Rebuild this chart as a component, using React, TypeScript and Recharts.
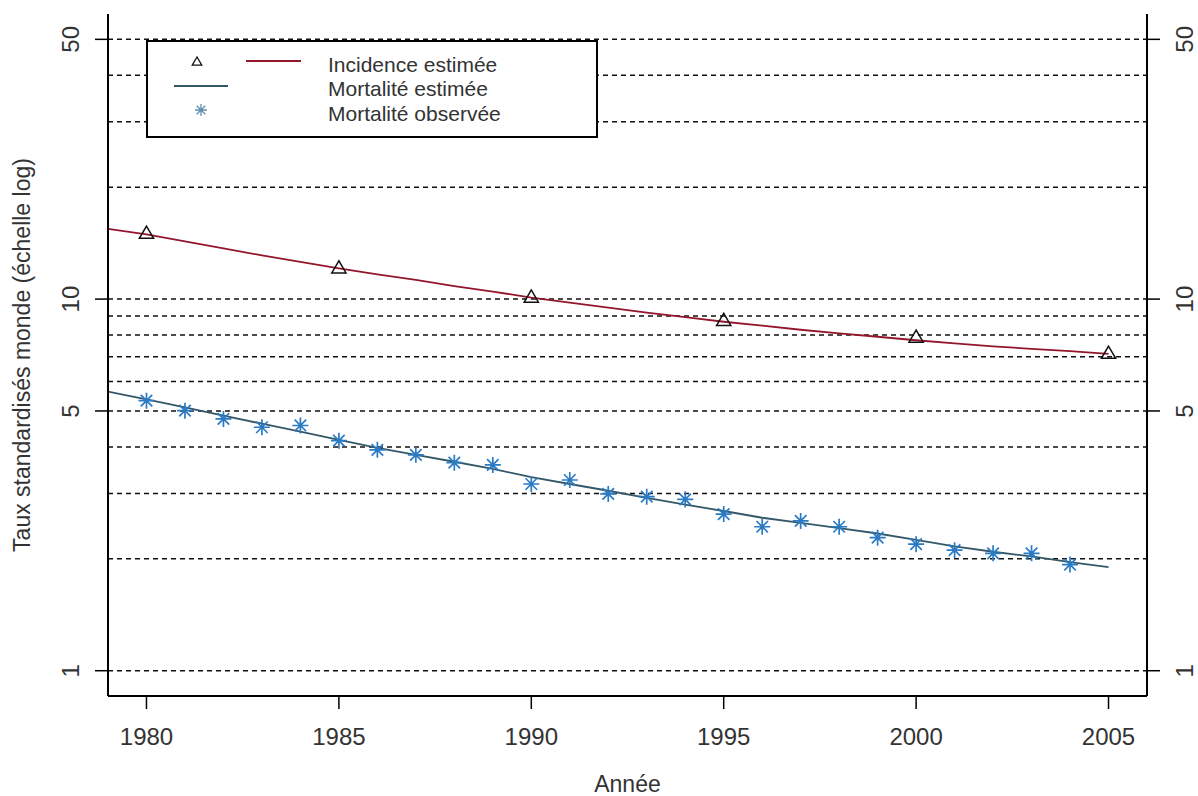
import React from "react";
import {
  ComposedChart,
  Label,
  Legend,
  Line,
  ReferenceLine,
  XAxis,
  YAxis,
} from "recharts";

// Années du modèle (courbes estimées)
const years = [
  1979, 1980, 1981, 1982, 1983, 1984, 1985, 1986, 1987, 1988, 1989, 1990, 1991,
  1992, 1993, 1994, 1995, 1996, 1997, 1998, 1999, 2000, 2001, 2002, 2003, 2004,
  2005,
];
const incidenceFit = [
  15.46, 14.94, 14.3, 13.69, 13.11, 12.59, 12.09, 11.65, 11.26, 10.84, 10.48,
  10.09, 9.78, 9.48, 9.19, 8.94, 8.69, 8.48, 8.27, 8.09, 7.92, 7.75, 7.6, 7.46,
  7.35, 7.24, 7.12,
];
const mortalityFit = [
  5.64, 5.37, 5.11, 4.86, 4.62, 4.4, 4.18, 3.98, 3.81, 3.65, 3.49, 3.32, 3.18,
  3.05, 2.92, 2.8, 2.69, 2.58, 2.5, 2.42, 2.34, 2.25, 2.16, 2.09, 2.03, 1.96,
  1.9,
];

// Points (triangles) de l'incidence
const incidenceYears = [1980, 1985, 1990, 1995, 2000, 2005];
const incidencePoints = [15.0, 12.1, 10.1, 8.74, 7.88, 7.13];

// Mortalité observée (étoiles)
const mortalityYears = [
  1980, 1981, 1982, 1983, 1984, 1985, 1986, 1987, 1988, 1989, 1990, 1991, 1992,
  1993, 1994, 1995, 1996, 1997, 1998, 1999, 2000, 2001, 2002, 2003, 2004,
];
const mortalityObserved = [
  5.33, 5.01, 4.76, 4.52, 4.57, 4.16, 3.93, 3.81, 3.63, 3.58, 3.18, 3.26, 2.99,
  2.94, 2.89, 2.64, 2.44, 2.53, 2.44, 2.28, 2.19, 2.11, 2.07, 2.07, 1.93,
];

const xTicks = [1980, 1985, 1990, 1995, 2000, 2005];
const yTicks = [1, 5, 10, 50];
const gridValues = [1, 2, 3, 4, 5, 6, 7, 8, 9, 10, 20, 30, 40, 50];

const FONT = "'Liberation Sans', Arial, sans-serif";
const TEXT = "#333";
const RED = "#94162c";
const SLATE = "#345868";
const BLUE = "#2a7bc4";

const rows = years.map((year, i) => {
  const a = incidenceYears.indexOf(year);
  const b = mortalityYears.indexOf(year);
  return {
    year,
    incFit: incidenceFit[i],
    mortFit: mortalityFit[i],
    incPt: a >= 0 ? incidencePoints[a] : null,
    mortPt: b >= 0 ? mortalityObserved[b] : null,
  };
});

function starPath(cx: number, cy: number, r: number) {
  const d = r * 0.72;
  return `M${cx - r},${cy}H${cx + r}M${cx},${cy - r}V${cy + r}` +
    `M${cx - d},${cy - d}L${cx + d},${cy + d}M${cx - d},${cy + d}L${cx + d},${cy - d}`;
}

function trianglePath(cx: number, cy: number, s: number) {
  return `M${cx},${cy - s}L${cx - s * 0.95},${cy + s * 0.62}L${cx + s * 0.95},${cy + s * 0.62}Z`;
}

const ok = (v: any) => typeof v === "number" && Number.isFinite(v);

const renderStar = (p: any) => {
  if (!ok(p.cx) || !ok(p.cy) || p.value == null) return <g key={`s${p.index}`} />;
  return (
    <path key={`s${p.index}`} d={starPath(p.cx, p.cy, 8)} stroke={BLUE} strokeWidth={1.7} fill="none" />
  );
};

const renderTriangle = (p: any) => {
  if (!ok(p.cx) || !ok(p.cy) || p.value == null) return <g key={`t${p.index}`} />;
  return (
    <path key={`t${p.index}`} d={trianglePath(p.cx, p.cy, 7.5)} stroke="#111" strokeWidth={1.5} fill="none" />
  );
};

const LeftTick = ({ x, y, payload }: any) => {
  const tx = x - 22;
  return (
    <text x={tx} y={y} transform={`rotate(-90 ${tx} ${y})`} textAnchor="middle"
      dominantBaseline="central" fontSize={24} fill={TEXT} fontFamily={FONT}>
      {payload.value}
    </text>
  );
};

const RightTick = ({ x, y, payload }: any) => {
  const tx = x + 23;
  return (
    <text x={tx} y={y} transform={`rotate(-90 ${tx} ${y})`} textAnchor="middle"
      dominantBaseline="central" fontSize={24} fill={TEXT} fontFamily={FONT}>
      {payload.value}
    </text>
  );
};

const BottomTick = ({ x, y, payload }: any) => (
  <text x={x} y={y + 25} textAnchor="middle" dominantBaseline="central"
    fontSize={24} fill={TEXT} fontFamily={FONT}>
    {payload.value}
  </text>
);

const XTitle = ({ viewBox }: any) => (
  <text x={viewBox.x + viewBox.width / 2} y={viewBox.y + 88} textAnchor="middle"
    dominantBaseline="central" fontSize={23} fill={TEXT} fontFamily={FONT}>
    Année
  </text>
);

const YTitle = ({ viewBox }: any) => {
  const tx = viewBox.x + 22;
  const ty = viewBox.y + viewBox.height / 2;
  return (
    <text x={tx} y={ty} transform={`rotate(-90 ${tx} ${ty})`} textAnchor="middle"
      dominantBaseline="central" fontSize={23} fill={TEXT} fontFamily={FONT}>
      Taux standardisés monde (échelle log)
    </text>
  );
};

const legendLabels = ["Incidence estimée", "Mortalité estimée", "Mortalité observée"];

const LegendBox = () => (
  <svg width={452} height={98} style={{ display: "block" }}>
    <rect x={1} y={1} width={450} height={96} fill="#fff" stroke="#000" strokeWidth={2} />
    <path d={trianglePath(51, 22, 5)} stroke="#111" strokeWidth={1.3} fill="none" />
    <line x1={100} x2={155} y1={21} y2={21} stroke={RED} strokeWidth={1.8} />
    <line x1={28} x2={82} y1={46} y2={46} stroke={SLATE} strokeWidth={1.8} />
    <path d={starPath(55, 70, 6)} stroke="#5f8faf" strokeWidth={1.3} fill="none" />
    {legendLabels.map((t, i) => (
      <text key={t} x={182} y={24 + i * 24.5} dominantBaseline="central"
        fontSize={21} fill={TEXT} fontFamily={FONT}>
        {t}
      </text>
    ))}
  </svg>
);

export default function App() {
  return (
    <div style={{ width: 1198, height: 796, background: "#fff" }}>
      <style>{"body{margin:0}"}</style>
      <ComposedChart width={1198} height={796} data={rows}
        margin={{ top: 14, right: 0, bottom: 0, left: 0 }}>
        <XAxis xAxisId="x" type="number" dataKey="year" domain={[1979, 2006]}
          ticks={xTicks} allowDataOverflow height={100} tickSize={13}
          tickLine={{ stroke: "#000", strokeWidth: 1.5 }}
          axisLine={{ stroke: "#000", strokeWidth: 2 }} tick={<BottomTick />}>
          <Label content={<XTitle />} />
        </XAxis>
        <XAxis xAxisId="top" orientation="top" type="number" domain={[1979, 2006]}
          allowDataOverflow height={0} tick={false} tickLine={false}
          axisLine={{ stroke: "#000", strokeWidth: 2 }} />
        <YAxis yAxisId="left" scale="log" domain={[0.855, 58.5]} ticks={yTicks}
          allowDataOverflow width={108} tickSize={13}
          tickLine={{ stroke: "#000", strokeWidth: 1.5 }}
          axisLine={{ stroke: "#000", strokeWidth: 2 }} tick={<LeftTick />}>
          <Label content={<YTitle />} />
        </YAxis>
        <YAxis yAxisId="right" orientation="right" scale="log" domain={[0.855, 58.5]}
          ticks={yTicks} allowDataOverflow width={51} tickSize={13}
          tickLine={{ stroke: "#000", strokeWidth: 1.5 }}
          axisLine={{ stroke: "#000", strokeWidth: 2 }} tick={<RightTick />} />
        {gridValues.map((v) => (
          <ReferenceLine key={v} xAxisId="x" yAxisId="left" y={v} stroke="#111"
            strokeWidth={1.5} strokeDasharray="5 4" />
        ))}
        <Line xAxisId="x" yAxisId="left" type="linear" dataKey="incFit" stroke={RED}
          strokeWidth={1.8} dot={false} activeDot={false} isAnimationActive={false} />
        <Line xAxisId="x" yAxisId="left" type="linear" dataKey="mortFit" stroke={SLATE}
          strokeWidth={1.8} dot={false} activeDot={false} isAnimationActive={false} />
        <Line xAxisId="x" yAxisId="left" dataKey="incPt" stroke="none" dot={renderTriangle}
          activeDot={false} isAnimationActive={false} />
        <Line xAxisId="x" yAxisId="left" dataKey="mortPt" stroke="none" dot={renderStar}
          activeDot={false} isAnimationActive={false} />
        <Legend layout="vertical" align="center" verticalAlign="middle"
          content={<LegendBox />}
          wrapperStyle={{ left: 146, top: 40, width: 452, height: 98 }} />
      </ComposedChart>
    </div>
  );
}
